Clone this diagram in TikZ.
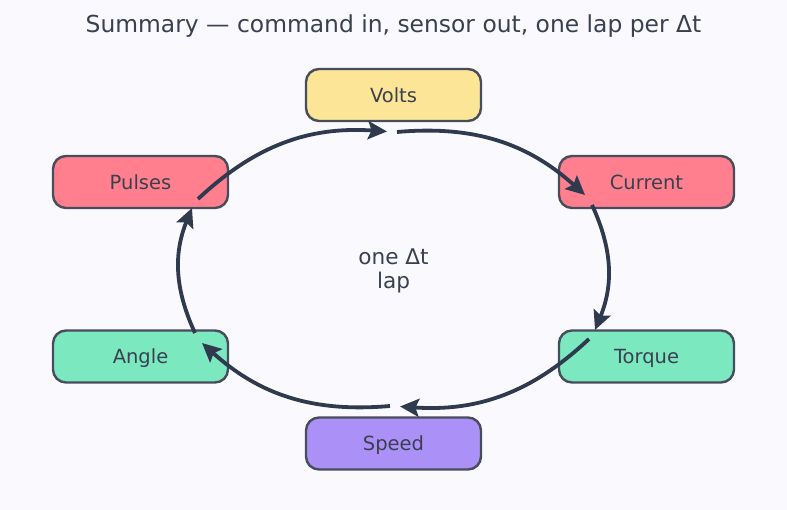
\documentclass[tikz,border=0pt]{standalone}
\usepackage{fontspec}
\setmainfont{DejaVu Sans}
\usetikzlibrary{arrows.meta}
\definecolor{bg}{HTML}{FAFAFE}
\definecolor{txt}{HTML}{3A4050}
\definecolor{edge}{HTML}{474D5C}
\definecolor{arr}{HTML}{2F3A4F}
\definecolor{cyellow}{HTML}{FCE596}
\definecolor{cred}{HTML}{FF7F8E}
\definecolor{cgreen}{HTML}{7BE8BF}
\definecolor{cpurple}{HTML}{AB90F8}
\tikzset{
  box/.style={draw=edge, line width=2.4pt, rounded corners=13pt, minimum width=175pt, minimum height=52pt, text=txt, font=\fontsize{19.5}{23}\selectfont, inner sep=0pt, text height=14.8pt, text depth=0pt},
  flow/.style={draw=arr, line width=3.8pt, -{Stealth[length=19pt,width=18pt,inset=3.5pt]}, bend left=23.5},
}
\begin{document}
\begin{tikzpicture}[x=1pt,y=1pt]
\fill[bg] (0,0) rectangle (787,510);
\useasboundingbox (0,0) rectangle (787,510);
\node[text=txt, font=\fontsize{23.4}{27}\selectfont] (title) at (393.5,484) {Summary — command in, sensor out, one lap per Δt};
\node[box, fill=cyellow] (volts) at (393.5,415) {Volts};
\node[box, fill=cred] (current) at (646.5,328) {Current};
\node[box, fill=cgreen] (torque) at (646.5,153.5) {Torque};
\node[box, fill=cpurple] (speed) at (393.5,66.5) {Speed};
\node[box, fill=cgreen] (angle) at (140.5,153.5) {Angle};
\node[box, fill=cred] (pulses) at (140.5,328) {Pulses};
\node[text=txt, font=\fontsize{21.6}{24}\selectfont, align=center] (lap) at (393.5,239) {one Δt\\lap};
\coordinate (a1) at (198,311);   \coordinate (b1) at (387,378.5);
\coordinate (a2) at (397,378);   \coordinate (b2) at (585,315);
\coordinate (a3) at (592,305);   \coordinate (b3) at (595,180);
\coordinate (a4) at (589,171);   \coordinate (b4) at (400,103.5);
\coordinate (a5) at (390,104);   \coordinate (b5) at (202,167);
\coordinate (a6) at (195,177);   \coordinate (b6) at (192,302);
\draw[flow] (a1) to (b1);
\draw[flow] (a2) to (b2);
\draw[flow] (a3) to (b3);
\draw[flow] (a4) to (b4);
\draw[flow] (a5) to (b5);
\draw[flow] (a6) to (b6);
\end{tikzpicture}
\end{document}
